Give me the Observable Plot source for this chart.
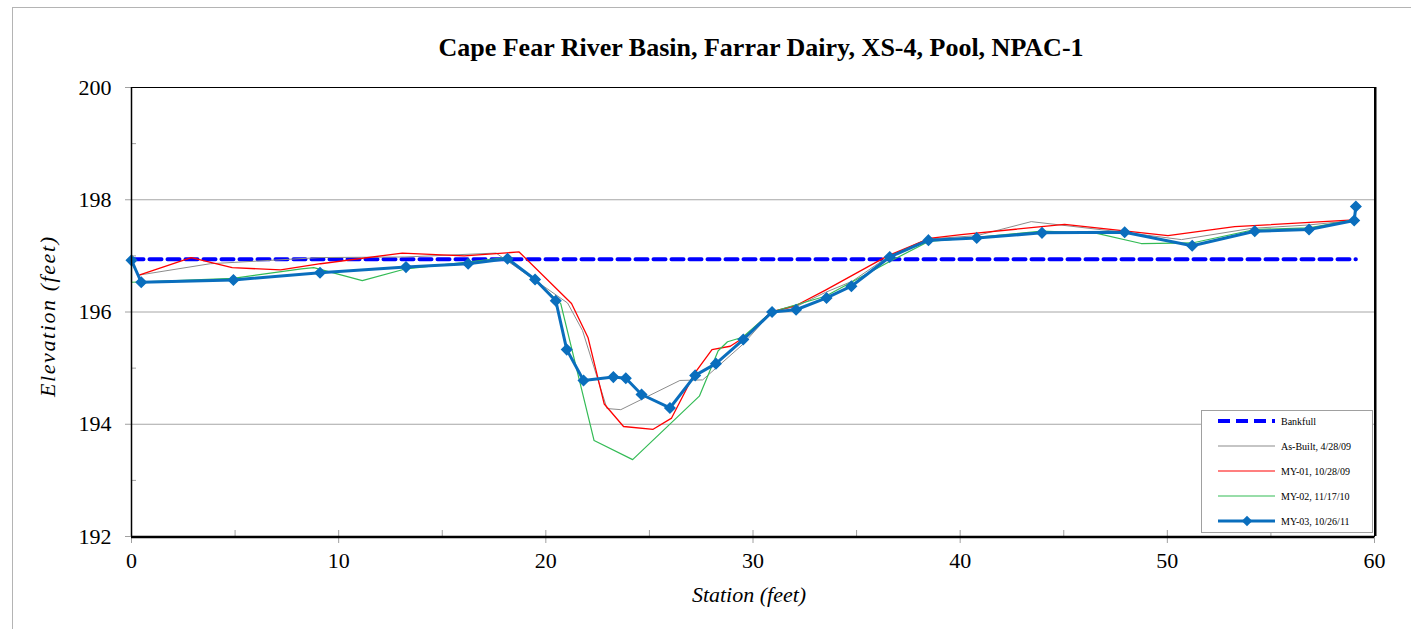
<!DOCTYPE html>
<html><head><meta charset="utf-8">
<script src="https://cdn.jsdelivr.net/npm/d3@7"></script>
<script src="https://cdn.jsdelivr.net/npm/@observablehq/plot@0.6"></script>
<style>
body{margin:0;background:#fff;}
#wrap{position:relative;width:1411px;height:629px;overflow:hidden;background:#fff;}
#wrap svg{position:absolute;left:0;top:0;}
#wrap svg text{font-family:"Liberation Serif","Times New Roman","DejaVu Serif",serif !important;}
#border{position:absolute;left:12px;top:7px;width:1500px;height:700px;border-top:1px solid #b4b4b4;border-left:1px solid #b4b4b4;pointer-events:none;}
</style></head>
<body><div id="wrap"></div>
<script>
// ---- data (station ft, elevation ft) ----
const titleText = "Cape Fear River Basin, Farrar Dairy, XS-4, Pool, NPAC-1";
const xLabel = "Station (feet)";
const yLabel = "Elevation (feet)";
const xTicks = [0, 10, 20, 30, 40, 50, 60];
const xMinorTicks = [5, 15, 25, 35, 45, 55];
const yTicks = [192, 194, 196, 198, 200];
const yMinorTicks = [193, 195, 197, 199];
const yGrid = [194, 196, 198];

const bankfullElevation = 196.94;
const bankfullStations = [0, 59.1];

const asBuilt = [[0.4,196.66],[3.8,196.86],[9.1,196.97],[13.2,196.98],[17.6,197.05],[19.5,196.56],[21.05,196.16],[21.77,195.67],[22.95,194.28],[23.62,194.26],[26.47,194.78],[27.57,194.79],[29.53,195.43],[30.9,196.0],[32.1,196.1],[33.5,196.35],[34.8,196.55],[36.5,196.98],[38.4,197.3],[40.8,197.36],[43.43,197.61],[47.9,197.42],[50.68,197.29],[54.06,197.49],[56.8,197.55],[59,197.63]];

const my01 = [[0.4,196.66],[2.88,196.97],[4.86,196.79],[7.2,196.75],[9.13,196.86],[13.07,197.05],[16.06,197.0],[18.71,197.07],[21.24,196.15],[22.04,195.54],[22.82,194.36],[23.75,193.96],[25.18,193.91],[26.07,194.11],[27.17,194.9],[28.02,195.33],[28.9,195.39],[29.58,195.55],[30.87,196.0],[32.1,196.12],[33.5,196.39],[36.5,197.0],[38.5,197.31],[40.05,197.38],[45.04,197.56],[50.03,197.36],[53.25,197.52],[59,197.64]];

const my02 = [[0,196.92],[0,196.53],[4.9,196.6],[8.2,196.77],[8.8,196.79],[11.14,196.56],[13.25,196.77],[16.2,196.89],[18.1,196.97],[19.5,196.56],[20.72,196.15],[22.33,193.71],[24.19,193.37],[27.41,194.5],[28.32,195.31],[28.77,195.47],[29.5,195.55],[30.9,196.0],[32.0,196.12],[33.5,196.28],[36.6,196.9],[38.5,197.26],[40.8,197.33],[43.95,197.44],[46.6,197.4],[48.74,197.22],[51.2,197.23],[54.22,197.47],[56.84,197.5],[59,197.64]];

const my03 = [[0,196.92],[0.47,196.53],[4.92,196.57],[9.1,196.70],[13.25,196.80],[16.25,196.86],[18.15,196.95],[19.48,196.58],[20.48,196.20],[21.01,195.33],[21.82,194.78],[23.26,194.84],[23.86,194.82],[24.62,194.53],[25.99,194.29],[27.21,194.87],[28.21,195.08],[29.53,195.51],[30.92,196.0],[32.08,196.04],[33.55,196.25],[34.75,196.46],[36.6,196.98],[38.47,197.28],[40.8,197.32],[43.95,197.41],[47.94,197.42],[51.2,197.18],[54.22,197.44],[56.84,197.47],[59.02,197.63],[59.1,197.88]];

const seriesNames = ["Bankfull", "As-Built, 4/28/09", "MY-01, 10/28/09", "MY-02, 11/17/10", "MY-03, 10/26/11"];
const seriesColors = ["#0000ff", "#8c8c8c", "#ff0000", "#33bb55", "#0a6ebd"];

const bankfull = bankfullStations.map(s => [s, bankfullElevation]);
const FONT = '"Liberation Serif", "Times New Roman", serif';
const TICK = "#a0a0a0";

const plot = Plot.plot({
  width: 1411,
  height: 629,
  marginLeft: 131,
  marginRight: 37,
  marginTop: 87,
  marginBottom: 93,
  style: {fontFamily: FONT, fontSize: "22px", background: "transparent"},
  x: {domain: [0, 60]},
  y: {domain: [192, 200]},
  marks: [
    Plot.gridY(yGrid, {stroke: "#a6a6a6", strokeOpacity: 1}),
    Plot.line(bankfull, {stroke: seriesColors[0], strokeWidth: 4, strokeDasharray: "12,6"}),
    Plot.line(asBuilt, {stroke: seriesColors[1], strokeWidth: 1}),
    Plot.line(my01, {stroke: seriesColors[2], strokeWidth: 1.3}),
    Plot.line(my02, {stroke: seriesColors[3], strokeWidth: 1.2}),
    Plot.line(my03, {stroke: seriesColors[4], strokeWidth: 3}),
    Plot.dot(my03, {symbol: "diamond2", r: 4.5, fill: seriesColors[4], stroke: seriesColors[4]}),
    Plot.axisY({ticks: yTicks, tickSize: 6, tickPadding: 14, label: null, fontSize: 22, stroke: TICK, tickFormat: d => String(d)}),
    Plot.axisY({ticks: yMinorTicks, tickSize: 5, dx: 5, label: null, stroke: TICK, tickFormat: () => ""}),
    Plot.axisX({ticks: xTicks, tickSize: 13, dy: -6, tickPadding: 9, label: null, fontSize: 22, stroke: TICK, tickFormat: d => String(d)}),
    Plot.axisX({ticks: xMinorTicks, tickSize: 6, dy: -6, label: null, stroke: TICK, tickFormat: () => ""}),
    Plot.frame({stroke: "black", strokeWidth: 1}),
    Plot.ruleY([192], {stroke: "black", strokeWidth: 2.5, dy: 0.5}),
    Plot.ruleX([60], {stroke: "black", strokeWidth: 2, dx: 1}),
    Plot.ruleX([0], {stroke: "black", strokeWidth: 1.5}),
    Plot.text([titleText], {text: d => d, frameAnchor: "top", dy: -50, dx: 8, fontSize: 26, fontWeight: "bold", fill: "black"}),
    Plot.text([xLabel], {text: d => d, frameAnchor: "bottom", dy: 65, dx: -4, fontSize: 22, fontStyle: "italic", fill: "black"}),
    Plot.text([yLabel], {text: d => d, frameAnchor: "left", textAnchor: "middle", dx: -84, dy: 5, rotate: -90, fontSize: 22, fontStyle: "italic", fill: "black"})
  ]
});

document.getElementById("wrap").appendChild(plot);
const border = document.createElement("div");
border.id = "border";
document.getElementById("wrap").appendChild(border);

// legend
const svg = d3.select(plot);
const lg = svg.append("g").attr("font-size", 10).attr("text-anchor", "start");
lg.append("rect").attr("x", 1201.5).attr("y", 410.5).attr("width", 171).attr("height", 122)
  .attr("fill", "white").attr("stroke", "#a0a0a0");
seriesNames.forEach((name, i) => {
  const yy = 421 + i * 25;
  const line = lg.append("line").attr("x1", 1218).attr("x2", 1275).attr("y1", yy).attr("y2", yy)
    .attr("stroke", seriesColors[i]);
  if (i === 0) line.attr("stroke-width", 4).attr("stroke-dasharray", "12,6");
  else if (i === 4) line.attr("stroke-width", 3);
  else line.attr("stroke-width", 1.2);
  if (i === 4) {
    lg.append("path").attr("d", d3.symbol(d3.symbolDiamond2, 70)())
      .attr("transform", `translate(1247,${yy})`).attr("fill", seriesColors[4]);
  }
  lg.append("text").attr("x", 1281).attr("y", yy).attr("dy", "0.35em").attr("fill", "black")
    .attr("text-anchor", "start").style("font-size", "10px").text(name);
});
// y-label spread to the reference's length
svg.selectAll("text").filter(function(){ return this.textContent === yLabel; })
  .attr("textLength", 160).attr("lengthAdjust", "spacing");
</script>
</body></html>
